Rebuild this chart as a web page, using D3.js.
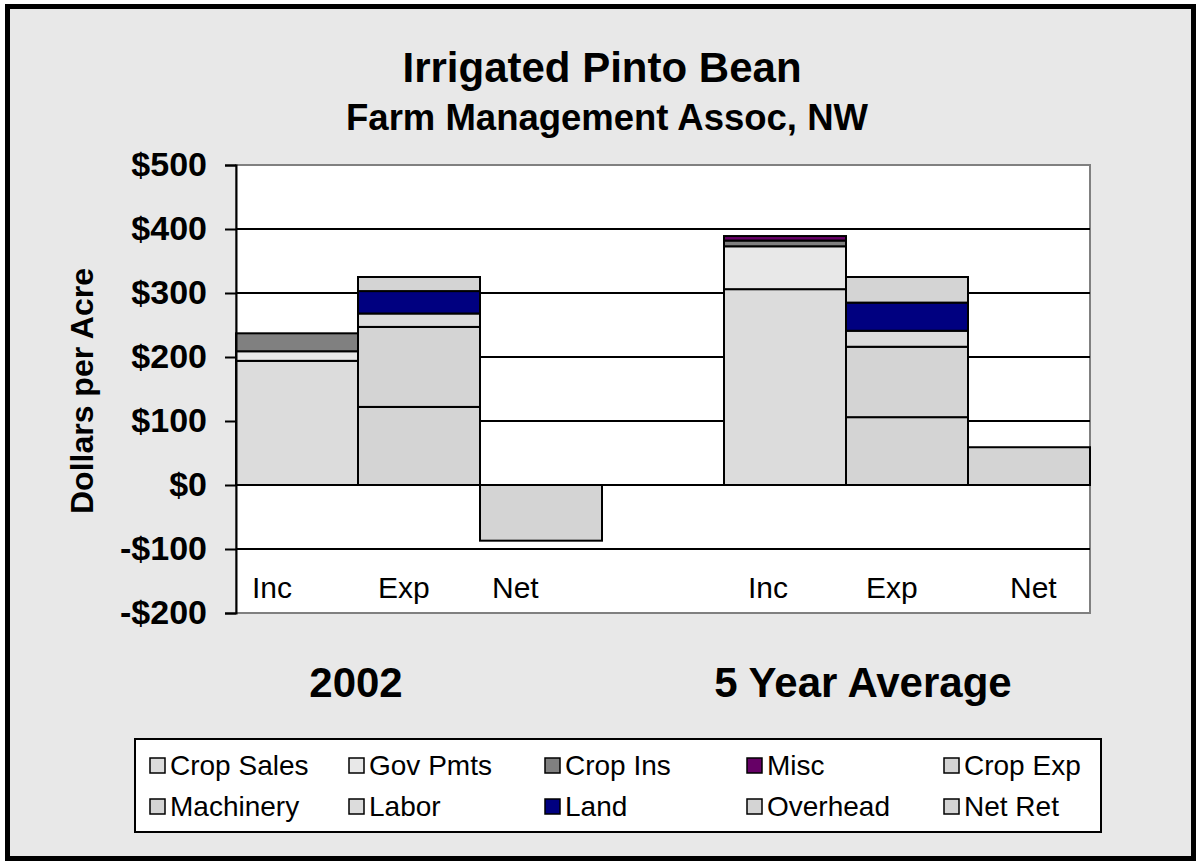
<!DOCTYPE html>
<html>
<head>
<meta charset="utf-8">
<script src="https://cdn.jsdelivr.net/npm/d3@7/dist/d3.min.js"></script>
<style>
  html, body { margin: 0; padding: 0; background: #ffffff; }
  svg { display: block; font-family: "Liberation Sans", Arial, sans-serif; }
</style>
</head>
<body>
<svg id="chart" width="1199" height="864"></svg>
<script>
// Category slots along the x axis (the fourth slot is an empty spacer between groups)
const slots = ["inc02", "exp02", "net02", "gap", "inc5", "exp5", "net5"];
const slotLabels = ["Inc", "Exp", "Net", "", "Inc", "Exp", "Net"];
const groupLabels = ["2002", "5 Year Average"];

// Series, in stacking order
const seriesNames = ["Crop Sales", "Gov Pmts", "Crop Ins", "Misc", "Crop Exp",
                     "Machinery", "Labor", "Land", "Overhead", "Net Ret"];
const seriesColors = ["#dcdcdc", "#e8e8e8", "#808080", "#660066", "#d4d4d4",
                      "#d4d4d4", "#dcdcdc", "#000080", "#d4d4d4", "#d4d4d4"];

// Dollars per acre, one value per slot
const cropSales = [194, 0, 0, 0, 306, 0, 0];
const govPmts   = [15, 0, 0, 0, 67, 0, 0];
const cropIns   = [28, 0, 0, 0, 9, 0, 0];
const misc      = [0, 0, 0, 0, 7, 0, 0];
const cropExp   = [0, 122, 0, 0, 0, 106, 0];
const machinery = [0, 125, 0, 0, 0, 110, 0];
const labor     = [0, 21, 0, 0, 0, 25, 0];
const land      = [0, 35, 0, 0, 0, 44, 0];
const overhead  = [0, 22, 0, 0, 0, 40, 0];
const netRet    = [0, 0, -87, 0, 0, 0, 59];

const yTicks = [-200, -100, 0, 100, 200, 300, 400, 500];

const seriesValues = [cropSales, govPmts, cropIns, misc, cropExp,
                      machinery, labor, land, overhead, netRet];

// Table for d3.stack: one row per slot
const table = slots.map((s, i) => {
  const row = { slot: s };
  seriesNames.forEach((n, j) => { row[n] = seriesValues[j][i]; });
  return row;
});

const svg = d3.select("#chart");
const W = 1199, H = 864;

// Chart area background and frame
svg.append("rect").attr("x", 0).attr("y", 0).attr("width", W).attr("height", H).attr("fill", "#ffffff");
svg.append("rect")
  .attr("x", 7.5).attr("y", 6.5).attr("width", 1186).attr("height", 852)
  .attr("fill", "#e8e8e8").attr("stroke", "#000").attr("stroke-width", 5);

const plot = { left: 236, right: 1090, top: 165, bottom: 613 };

const x = d3.scaleBand().domain(slots).range([plot.left, plot.right]).padding(0);
const y = d3.scaleLinear().domain([-200, 500]).range([plot.bottom, plot.top]);

// Plot area
svg.append("rect")
  .attr("x", plot.left).attr("y", plot.top)
  .attr("width", plot.right - plot.left).attr("height", plot.bottom - plot.top)
  .attr("fill", "#ffffff").attr("stroke", "#808080").attr("stroke-width", 2);

// Gridlines
svg.append("g")
  .selectAll("line")
  .data(yTicks.filter(t => t > -200 && t < 500))
  .join("line")
  .attr("x1", plot.left).attr("x2", plot.right)
  .attr("y1", d => y(d)).attr("y2", d => y(d))
  .attr("stroke", "#000").attr("stroke-width", 2);

// Stacked bars
const stack = d3.stack().keys(seriesNames).offset(d3.stackOffsetDiverging);
const layers = stack(table);

svg.append("g")
  .selectAll("g")
  .data(layers)
  .join("g")
  .attr("fill", (d, i) => seriesColors[i])
  .selectAll("rect")
  .data(d => d.filter(p => p[1] !== p[0]))
  .join("rect")
  .attr("x", d => x(d.data.slot))
  .attr("width", x.bandwidth())
  .attr("y", d => y(Math.max(d[0], d[1])))
  .attr("height", d => Math.abs(y(d[0]) - y(d[1])))
  .attr("stroke", "#000").attr("stroke-width", 2);

// Y axis
const yAxis = d3.axisLeft(y).tickValues(yTicks)
  .tickFormat(d => (d < 0 ? "-$" : "$") + Math.abs(d))
  .tickSize(11).tickPadding(18);
const gy = svg.append("g").attr("transform", `translate(${plot.left},0)`).call(yAxis);
gy.select(".domain").attr("stroke", "#000").attr("stroke-width", 2);
gy.selectAll(".tick line").attr("stroke", "#000").attr("stroke-width", 2);
gy.selectAll(".tick text")
  .attr("fill", "#000").attr("font-size", 34).attr("font-weight", "bold")
  .attr("font-family", "Liberation Sans, Arial, sans-serif");

// Category labels inside the plot
const labelShift = [16, 20, 12, 0, 24, 20, 42];
svg.append("g")
  .selectAll("text")
  .data(slots.map((s, i) => ({ s, label: slotLabels[i], dx: labelShift[i] })).filter(d => d.label))
  .join("text")
  .attr("x", d => x(d.s) + d.dx)
  .attr("y", 598)
  .attr("font-size", 30)
  .attr("fill", "#000")
  .text(d => d.label);

// Group labels
svg.append("text").attr("x", x("exp02") - 2).attr("y", 697)
  .attr("text-anchor", "middle").attr("font-size", 42).attr("font-weight", "bold")
  .text(groupLabels[0]);
svg.append("text").attr("x", x("exp5") + 17).attr("y", 697)
  .attr("text-anchor", "middle").attr("font-size", 42).attr("font-weight", "bold")
  .text(groupLabels[1]);

// Titles
svg.append("text").attr("x", 602).attr("y", 82)
  .attr("text-anchor", "middle").attr("font-size", 42).attr("font-weight", "bold")
  .text("Irrigated Pinto Bean");
svg.append("text").attr("x", 607).attr("y", 130)
  .attr("text-anchor", "middle").attr("font-size", 36.5).attr("font-weight", "bold")
  .text("Farm Management Assoc, NW");

// Y axis title
svg.append("text")
  .attr("transform", "translate(93,391) rotate(-90)")
  .attr("text-anchor", "middle").attr("font-size", 32).attr("font-weight", "bold")
  .text("Dollars per Acre");

// Legend
const legend = { left: 135, top: 739, right: 1101, bottom: 832 };
svg.append("rect")
  .attr("x", legend.left).attr("y", legend.top)
  .attr("width", legend.right - legend.left).attr("height", legend.bottom - legend.top)
  .attr("fill", "#ffffff").attr("stroke", "#000").attr("stroke-width", 2);

const colX = [150, 349, 545, 747, 944];
const rowY = [765, 806];
const items = svg.append("g")
  .selectAll("g")
  .data(seriesNames.map((n, i) => ({ n, c: seriesColors[i], col: i % 5, row: Math.floor(i / 5) })))
  .join("g")
  .attr("transform", d => `translate(${colX[d.col]},${rowY[d.row]})`);
items.append("rect")
  .attr("x", 0).attr("y", -7).attr("width", 15).attr("height", 15)
  .attr("fill", d => d.c).attr("stroke", "#000").attr("stroke-width", 1.5);
items.append("text")
  .attr("x", 20).attr("y", 0).attr("dy", "0.36em")
  .attr("font-size", 28).attr("fill", "#000")
  .text(d => d.n);
</script>
</body>
</html>
